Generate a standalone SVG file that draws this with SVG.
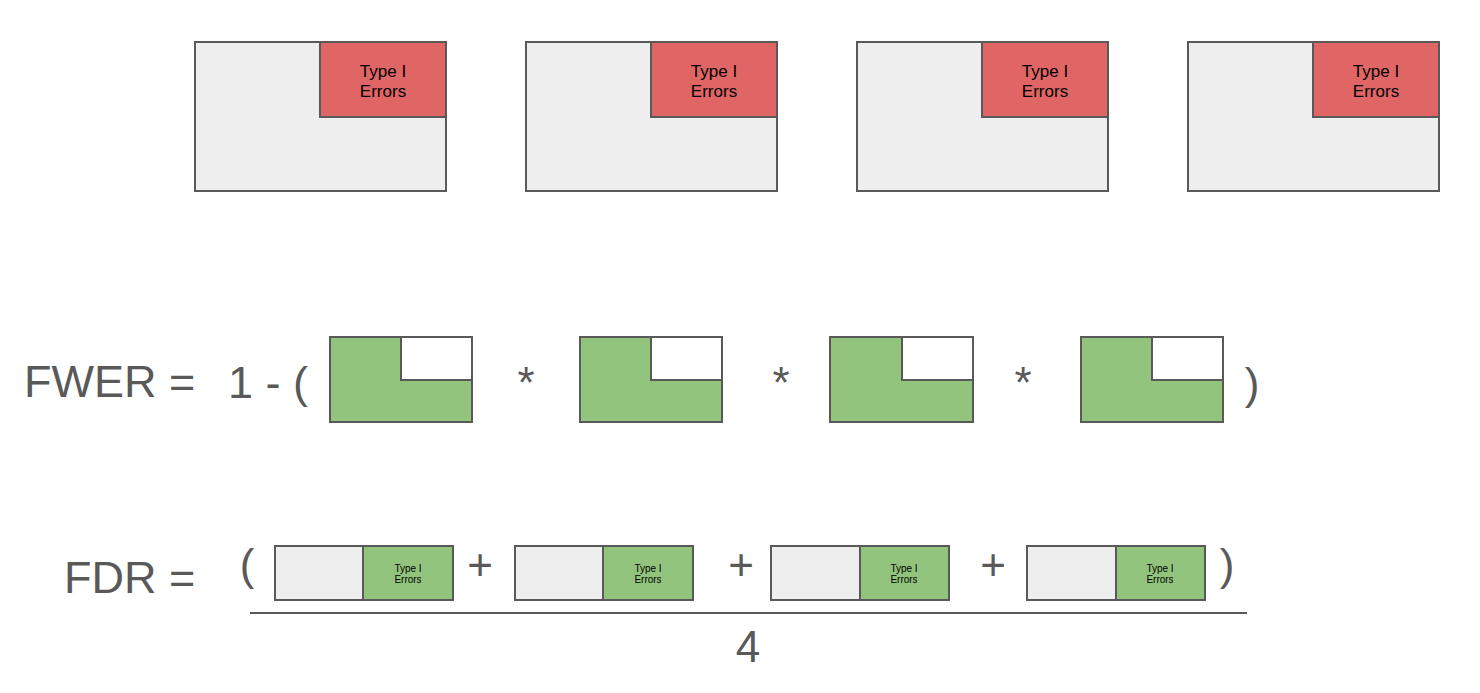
<svg xmlns="http://www.w3.org/2000/svg" width="1480" height="693" viewBox="0 0 1480 693">
<style>
.bg{fill:#eeeeee;stroke:#595959;stroke-width:2}
.red{fill:#e06666;stroke:#595959;stroke-width:2}
.grn{fill:#93c47d;stroke:#595959;stroke-width:2}
.wht{fill:#ffffff;stroke:#595959;stroke-width:2}
.lbl{font-family:"Liberation Sans",Arial,sans-serif;font-size:17px;fill:#000;text-anchor:middle}
.sm{font-family:"Liberation Sans",Arial,sans-serif;font-size:10px;fill:#000;text-anchor:middle}
.eq{font-family:"Liberation Sans",Arial,sans-serif;font-size:45px;fill:#595959}
.op{font-family:"Liberation Sans",Arial,sans-serif;font-size:44px;fill:#595959;text-anchor:middle}
</style>
<rect width="1480" height="693" fill="#ffffff"/>
<g id="top1"><rect class="bg" x="195" y="42" width="251" height="149"/><rect class="red" x="320" y="42" width="126" height="75"/><text class="lbl" x="383" y="77">Type I</text><text class="lbl" x="383" y="97">Errors</text></g>
<g id="top2"><rect class="bg" x="526" y="42" width="251" height="149"/><rect class="red" x="651" y="42" width="126" height="75"/><text class="lbl" x="714" y="77">Type I</text><text class="lbl" x="714" y="97">Errors</text></g>
<g id="top3"><rect class="bg" x="857" y="42" width="251" height="149"/><rect class="red" x="982" y="42" width="126" height="75"/><text class="lbl" x="1045" y="77">Type I</text><text class="lbl" x="1045" y="97">Errors</text></g>
<g id="top4"><rect class="bg" x="1188" y="42" width="251" height="149"/><rect class="red" x="1313" y="42" width="126" height="75"/><text class="lbl" x="1376" y="77">Type I</text><text class="lbl" x="1376" y="97">Errors</text></g>

<g id="fwer-label"><text class="eq" x="24" y="397">FWER =</text><text class="eq" x="228" y="398">1 - (</text></g>
<g id="fw1"><rect class="grn" x="330" y="337" width="142" height="85"/><rect class="wht" x="401" y="337" width="71" height="43"/></g>
<text class="op" x="526" y="398">*</text>
<g id="fw2"><rect class="grn" x="580" y="337" width="142" height="85"/><rect class="wht" x="651" y="337" width="71" height="43"/></g>
<text class="op" x="781" y="398">*</text>
<g id="fw3"><rect class="grn" x="830" y="337" width="143" height="85"/><rect class="wht" x="902" y="337" width="71" height="43"/></g>
<text class="op" x="1023" y="398">*</text>
<g id="fw4"><rect class="grn" x="1081" y="337" width="142" height="85"/><rect class="wht" x="1152" y="337" width="71" height="43"/></g>
<text class="op" x="1252" y="399">)</text>

<g id="fdr-label"><text class="eq" x="64" y="593">FDR =</text></g>
<text class="op" x="247" y="580">(</text>
<g id="fd1"><rect class="bg" x="275" y="546" width="178" height="54"/><rect class="grn" x="363" y="546" width="90" height="54"/><text class="sm" x="408" y="572">Type I</text><text class="sm" x="408" y="583">Errors</text></g>
<text class="op" x="480" y="580">+</text>
<g id="fd2"><rect class="bg" x="515" y="546" width="178" height="54"/><rect class="grn" x="603" y="546" width="90" height="54"/><text class="sm" x="648" y="572">Type I</text><text class="sm" x="648" y="583">Errors</text></g>
<text class="op" x="741" y="580">+</text>
<g id="fd3"><rect class="bg" x="771" y="546" width="178" height="54"/><rect class="grn" x="860" y="546" width="89" height="54"/><text class="sm" x="904" y="572">Type I</text><text class="sm" x="904" y="583">Errors</text></g>
<text class="op" x="993" y="580">+</text>
<g id="fd4"><rect class="bg" x="1027" y="546" width="178" height="54"/><rect class="grn" x="1116" y="546" width="89" height="54"/><text class="sm" x="1160" y="572">Type I</text><text class="sm" x="1160" y="583">Errors</text></g>
<text class="op" x="1227" y="580">)</text>
<g id="connectors"><line x1="250" y1="613" x2="1247" y2="613" stroke="#595959" stroke-width="2"/></g>
<text class="op" x="748" y="662">4</text>
</svg>
